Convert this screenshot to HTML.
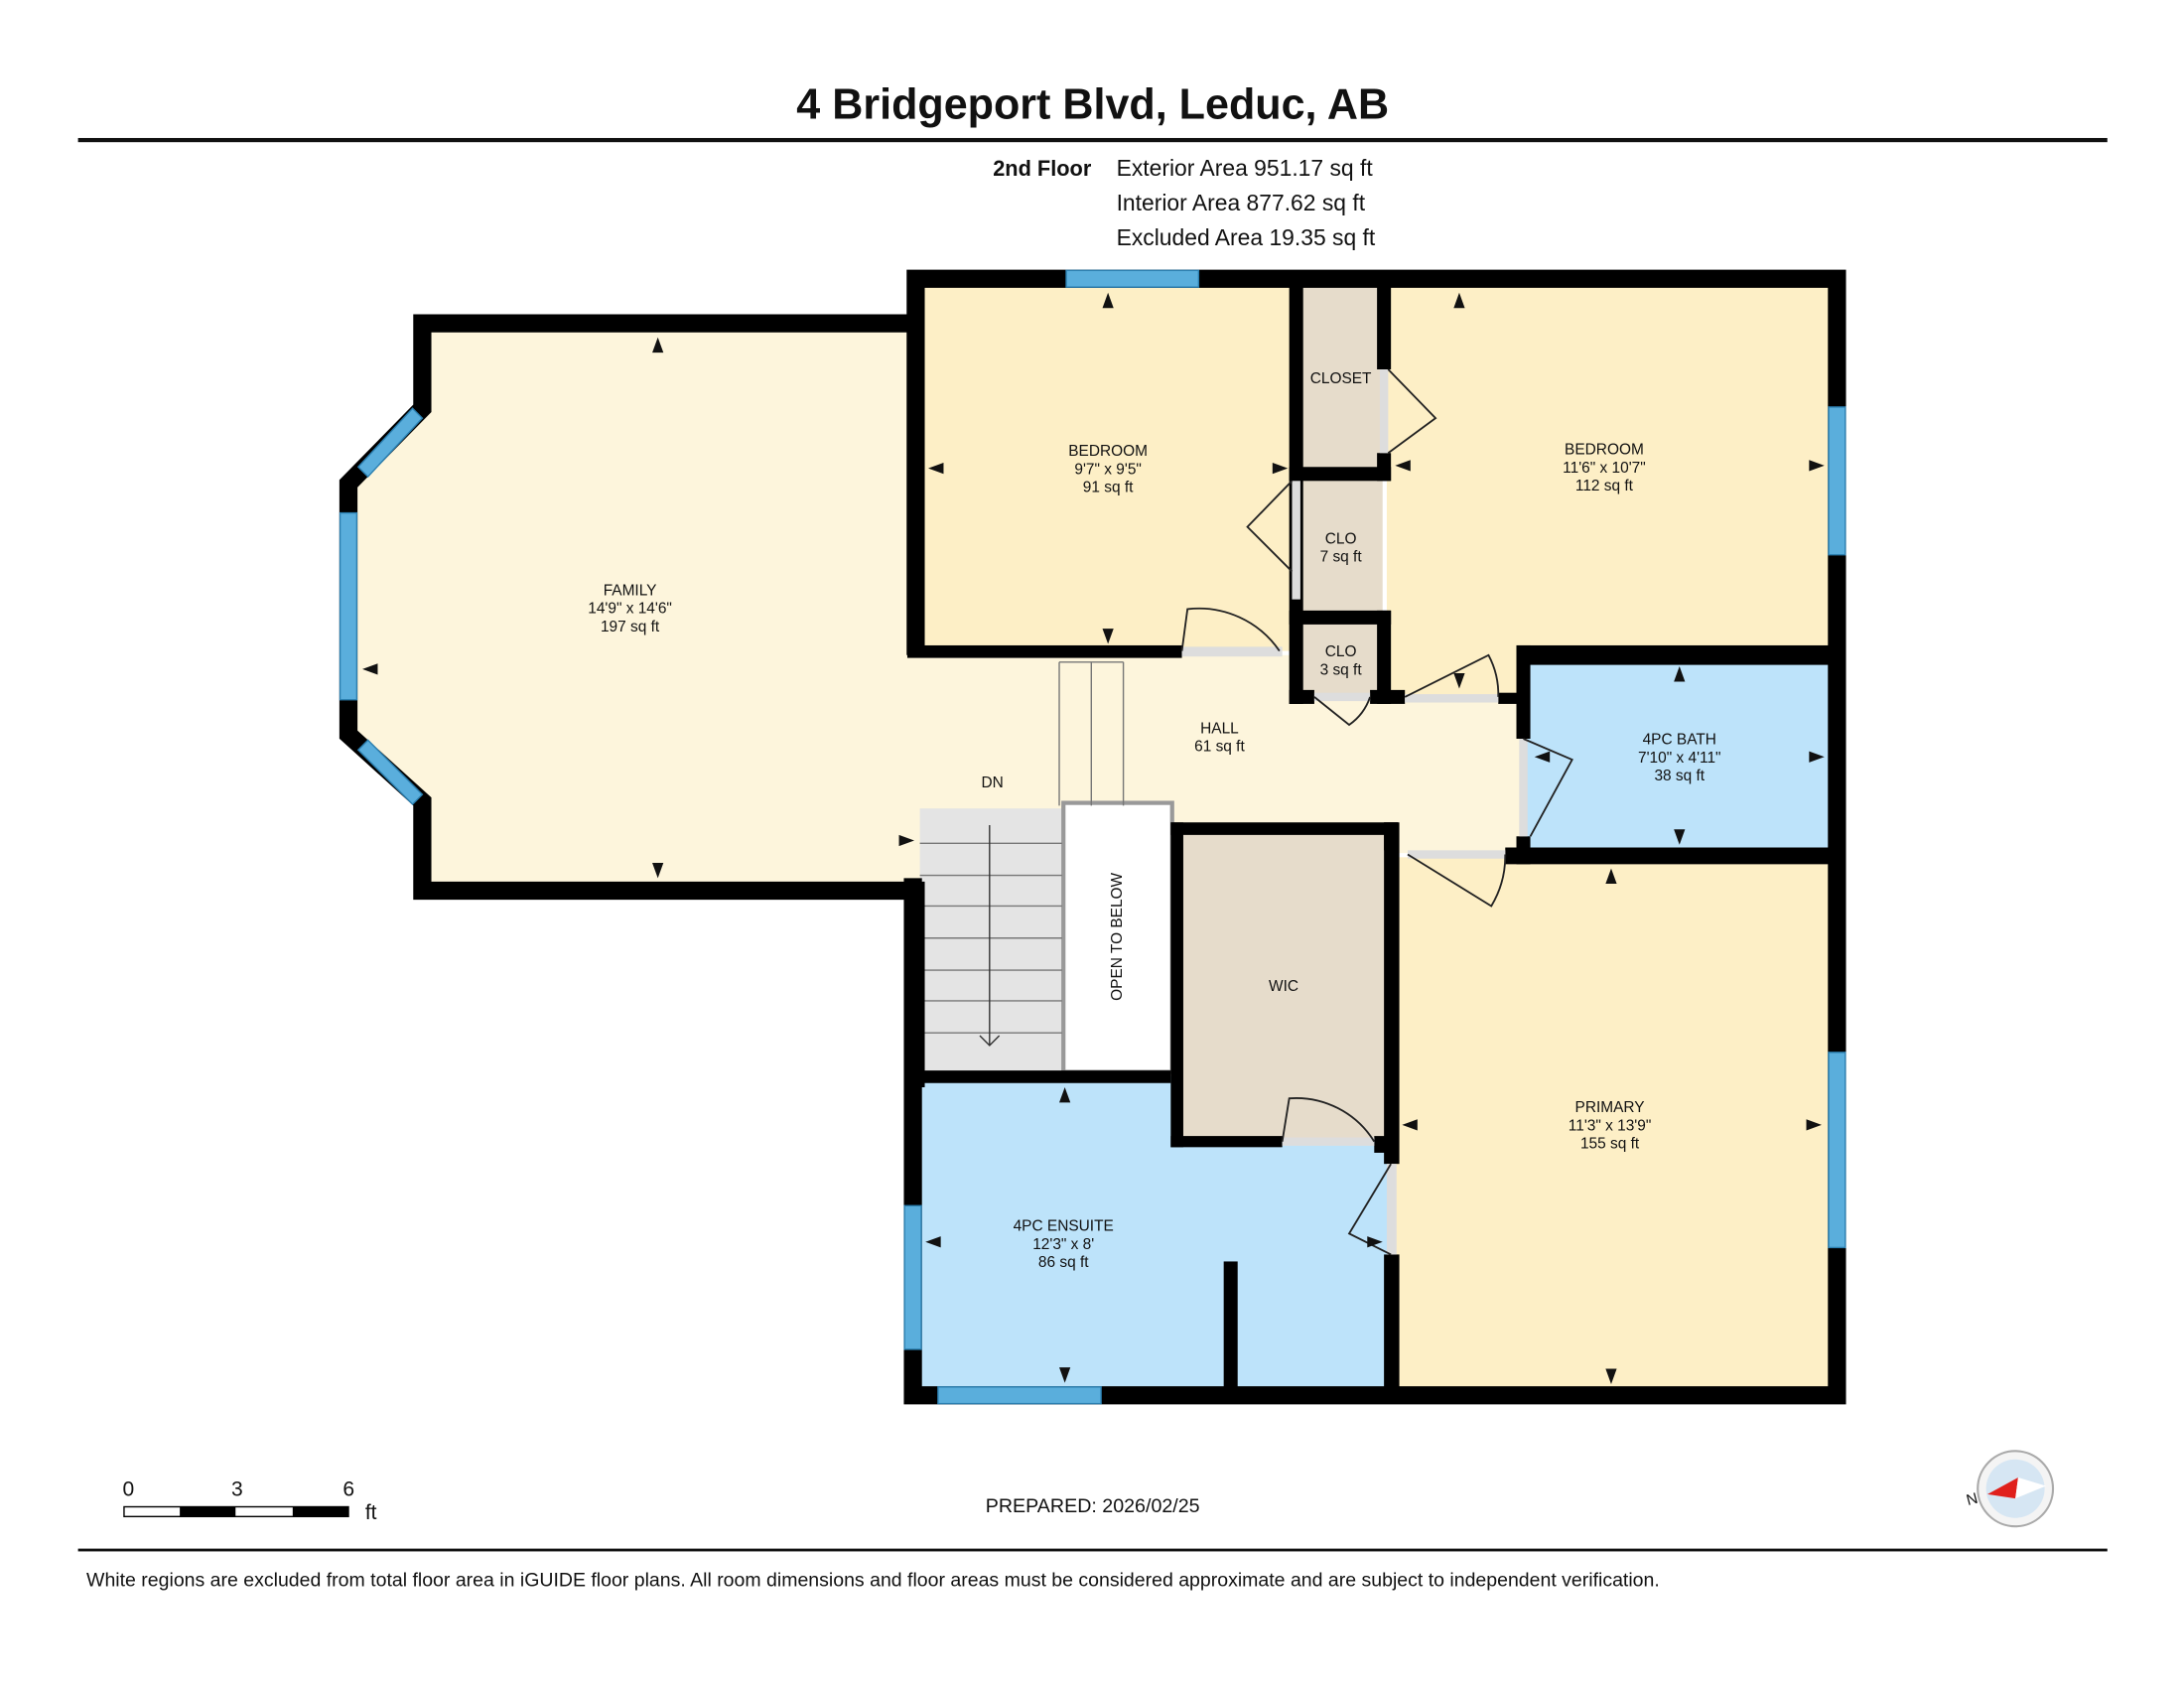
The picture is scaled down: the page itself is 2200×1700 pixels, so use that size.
<!DOCTYPE html>
<html><head><meta charset="utf-8"><style>
html,body{margin:0;padding:0;background:#fff;}
svg{display:block;}
text{font-family:"Liberation Sans",sans-serif;fill:#111;}
</style></head><body>
<svg width="2200" height="1700" viewBox="0 0 1567 1211" preserveAspectRatio="none" xmlns="http://www.w3.org/2000/svg">
<rect width="1600" height="1250" fill="#fff"/>
<text x="784" y="85" font-size="30.7" font-weight="bold" text-anchor="middle">4 Bridgeport Blvd, Leduc, AB</text>
<rect x="56" y="99" width="1456" height="3" fill="#111"/>
<text x="783" y="126" font-size="15.5" font-weight="bold" text-anchor="end">2nd Floor</text>
<text x="801" y="126" font-size="16.3">Exterior Area 951.17 sq ft</text>
<text x="801" y="151" font-size="16.3">Interior Area 877.62 sq ft</text>
<text x="801" y="176" font-size="16.3">Excluded Area 19.35 sq ft</text>

<polygon points="303,232 657,232 657,472 765,472 765,632 657,632 657,640 303,640 303,575 250,527 250,347 303,293" fill="#fdf5dc"/>
<rect x="757" y="470" width="340" height="142" fill="#fdf5dc"/>
<rect x="660" y="205" width="268" height="262" fill="#fdefc6"/>
<rect x="930" y="205" width="62" height="132" fill="#e6dccb"/>
<rect x="930" y="340" width="62" height="100" fill="#e6dccb"/>
<rect x="930" y="445" width="62" height="55" fill="#e6dccb"/>
<polygon points="995,205 1315,205 1315,470 1093,470 1093,500 995,500" fill="#fdefc6"/>
<rect x="1093" y="470" width="222" height="143" fill="#bde3fa"/>
<rect x="1000" y="615" width="315" height="385" fill="#fdefc6"/>
<rect x="660" y="580" width="102" height="190" fill="#e4e4e4"/>
<rect x="763" y="576" width="78" height="193" fill="#fff" stroke="#999" stroke-width="3"/>
<rect x="844" y="594" width="154" height="225" fill="#e6dccb"/>
<polygon points="660,772 844,772 844,819 998,819 998,1000 660,1000" fill="#bde3fa"/>
<g stroke="#777" stroke-width="1">
<line x1="660" y1="605" x2="762" y2="605"/><line x1="660" y1="628" x2="762" y2="628"/>
<line x1="660" y1="650" x2="762" y2="650"/><line x1="660" y1="673" x2="762" y2="673"/>
<line x1="660" y1="696" x2="762" y2="696"/><line x1="660" y1="718" x2="762" y2="718"/>
<line x1="660" y1="741" x2="762" y2="741"/>
<line x1="760" y1="475" x2="760" y2="578"/><line x1="783" y1="475" x2="783" y2="578"/><line x1="806" y1="475" x2="806" y2="578"/>
<line x1="760" y1="475" x2="806" y2="475"/>
<line x1="710" y1="592" x2="710" y2="750" stroke="#333"/>
<polyline points="703,743 710,750 717,743" fill="none" stroke="#333"/>
</g>

<g fill="none" stroke="#000" stroke-width="13" stroke-linejoin="miter">
<polyline points="657,232 303,232 303,293 250,347 250,527 303,575 303,639 657,639 657,780"/>
<polyline points="657,470 657,200 1318,200 1318,1001 655,1001 655,630"/>
</g>
<g fill="#000">
<rect x="651" y="463" width="197" height="9"/>
<rect x="925" y="200" width="10" height="305"/>
<rect x="988" y="200" width="10" height="65"/>
<rect x="988" y="325" width="10" height="20"/>
<rect x="925" y="335" width="73" height="10"/>
<rect x="925" y="438" width="73" height="10"/>
<rect x="925" y="495" width="18" height="10"/>
<rect x="983" y="495" width="25" height="10"/>
<rect x="988" y="438" width="10" height="67"/>
<rect x="1075" y="497" width="22" height="8"/>
<rect x="1088" y="463" width="236" height="14"/>
<rect x="1088" y="463" width="10" height="67"/>
<rect x="1088" y="600" width="10" height="20"/>
<rect x="1080" y="608" width="244" height="12"/>
<rect x="993" y="590" width="10" height="20"/>
<rect x="840" y="590" width="163" height="9"/>
<rect x="840" y="590" width="9" height="233"/>
<rect x="840" y="815" width="80" height="8"/>
<rect x="986" y="815" width="17" height="12"/>
<rect x="993" y="590" width="11" height="245"/>
<rect x="993" y="900" width="11" height="101"/>
<rect x="655" y="768" width="185" height="9"/>
<rect x="878" y="905" width="10" height="90"/>
</g>
<g fill="#ddd">
<rect x="848" y="464" width="72" height="7"/>
<rect x="990" y="265" width="6" height="60"/>
<rect x="927" y="345" width="6" height="85"/>
<rect x="943" y="497" width="40" height="6"/>
<rect x="1008" y="498" width="67" height="6"/>
<rect x="1090" y="530" width="6" height="70"/>
<rect x="1010" y="610" width="70" height="6"/>
<rect x="920" y="816" width="66" height="6"/>
<rect x="995" y="835" width="7" height="65"/>
</g>
<g fill="none" stroke="#222" stroke-width="1.3">
<path d="M848,467 L852,437 A70,70 0 0 1 918,467"/>
<path d="M996,265 L1030,300 L996,325"/>
<path d="M927,345 L895,378 L927,410"/>
<path d="M943,500 L968,520 A40,40 0 0 0 983,500"/>
<path d="M1008,500 L1068,470 A60,60 0 0 1 1075,500"/>
<path d="M1093,530 L1128,545 L1098,600"/>
<path d="M1010,613 L1070,650 A70,70 0 0 0 1080,613"/>
<path d="M920,819 L925,788 A66,66 0 0 1 986,819"/>
<path d="M998,835 L968,885 L998,900"/>
</g>
<g fill="#5aaedc" stroke="#2b7fb0" stroke-width="1">
<rect x="765" y="194" width="95" height="12"/>
<rect x="1312" y="292" width="12" height="106"/>
<rect x="1312" y="755" width="12" height="140"/>
<rect x="649" y="865" width="12" height="103"/>
<rect x="673" y="995" width="117" height="12"/>
<rect x="244" y="368" width="12" height="134"/>
<polygon points="257,335 296,293 303,300 264,342"/>
<polygon points="257,538 264,531 303,570 296,577"/>
</g>

<g fill="#111">
<polygon points="472,242 468,253 476,253"/><polygon points="472,630 468,619 476,619"/>
<polygon points="260,480 271,476 271,484"/><polygon points="656,603 645,599 645,607"/>
<polygon points="795,210 791,221 799,221"/><polygon points="795,462 791,451 799,451"/>
<polygon points="666,336 677,332 677,340"/><polygon points="924,336 913,332 913,340"/>
<polygon points="1047,210 1043,221 1051,221"/><polygon points="1047,494 1043,483 1051,483"/>
<polygon points="1001,334 1012,330 1012,338"/><polygon points="1309,334 1298,330 1298,338"/>
<polygon points="1205,478 1201,489 1209,489"/><polygon points="1205,606 1201,595 1209,595"/>
<polygon points="1101,543 1112,539 1112,547"/><polygon points="1309,543 1298,539 1298,547"/>
<polygon points="1156,623 1152,634 1160,634"/><polygon points="1156,993 1152,982 1160,982"/>
<polygon points="1006,807 1017,803 1017,811"/><polygon points="1307,807 1296,803 1296,811"/>
<polygon points="764,780 760,791 768,791"/><polygon points="764,992 760,981 768,981"/>
<polygon points="664,891 675,887 675,895"/><polygon points="992,891 981,887 981,895"/>
</g>

<g font-size="11" text-anchor="middle">
<text x="452" y="427">FAMILY</text><text x="452" y="440">14'9" x 14'6"</text><text x="452" y="453">197 sq ft</text>
<text x="795" y="327">BEDROOM</text><text x="795" y="340">9'7" x 9'5"</text><text x="795" y="353">91 sq ft</text>
<text x="962" y="275">CLOSET</text>
<text x="962" y="390">CLO</text><text x="962" y="403">7 sq ft</text>
<text x="962" y="471">CLO</text><text x="962" y="484">3 sq ft</text>
<text x="1151" y="326">BEDROOM</text><text x="1151" y="339">11'6" x 10'7"</text><text x="1151" y="352">112 sq ft</text>
<text x="875" y="526">HALL</text><text x="875" y="539">61 sq ft</text>
<text x="712" y="565">DN</text>
<text x="1205" y="534">4PC BATH</text><text x="1205" y="547">7'10" x 4'11"</text><text x="1205" y="560">38 sq ft</text>
<text x="921" y="711">WIC</text>
<text x="763" y="883">4PC ENSUITE</text><text x="763" y="896">12'3" x 8'</text><text x="763" y="909">86 sq ft</text>
<text x="1155" y="798">PRIMARY</text><text x="1155" y="811">11'3" x 13'9"</text><text x="1155" y="824">155 sq ft</text>
<text transform="translate(805,672) rotate(-90)" font-size="11">OPEN TO BELOW</text>
</g>

<g font-size="15">
<text x="88" y="1073">0</text><text x="166" y="1073">3</text><text x="246" y="1073">6</text><text x="262" y="1090">ft</text>
<rect x="89" y="1081" width="161" height="7" fill="#fff" stroke="#000" stroke-width="1"/>
<rect x="129" y="1081" width="40" height="7" fill="#000"/>
<rect x="210" y="1081" width="40" height="7" fill="#000"/>
</g>
<text x="784" y="1085" font-size="14" text-anchor="middle">PREPARED: 2026/02/25</text>
<circle cx="1446" cy="1068" r="27" fill="#f4f4f4" stroke="#aaa" stroke-width="1.5"/>
<circle cx="1446" cy="1068" r="21" fill="#d6e6f3"/>
<polygon points="1426,1072 1448,1060 1446,1075" fill="#e0201c"/>
<polygon points="1468,1066 1448,1060 1446,1075" fill="#fff"/>
<text x="1412" y="1080" font-size="11" transform="rotate(-15 1412 1080)">N</text>

<rect x="56" y="1111" width="1456" height="2" fill="#111"/>
<text x="62" y="1138" font-size="13.9">White regions are excluded from total floor area in iGUIDE floor plans. All room dimensions and floor areas must be considered approximate and are subject to independent verification.</text>
</svg>
</body></html>
